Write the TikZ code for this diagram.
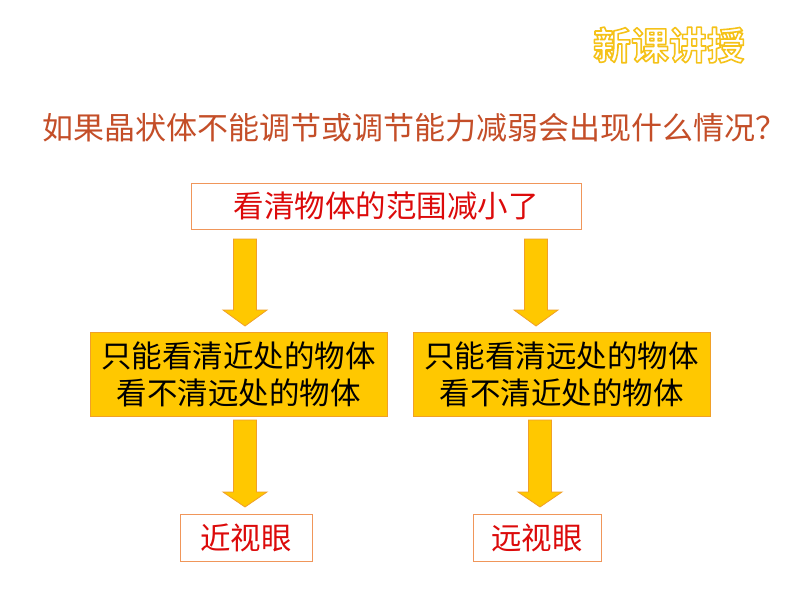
\documentclass[tikz,border=0pt]{standalone}
\usepackage{fontspec}
\setmainfont{Noto Sans CJK SC}
\newfontfamily\cjkb{Noto Sans CJK SC}[BoldFont=* Bold]
\definecolor{titlecol}{RGB}{196,78,40}
\definecolor{boxline}{RGB}{240,150,90}
\definecolor{gold}{RGB}{255,200,0}
\definecolor{goldline}{RGB}{240,160,40}
\definecolor{txtred}{RGB}{220,10,10}
\tikzset{
  whitebox/.style={draw=boxline, line width=0.9pt, fill=white, inner sep=0pt},
  goldbox/.style={draw=goldline, line width=0.9pt, fill=gold, inner sep=0pt, align=center},
  bigtxt/.style={font=\fontsize{30.5}{37}\selectfont},
  blockarrow/.style={draw=goldline, line width=0.8pt, fill=gold, line join=miter}
}
\newcommand{\downarrowblock}[4]{% x, shaft top, head base, tip
  \draw[blockarrow] (#1-11.5,#2) -- (#1+11.5,#2) -- (#1+11.5,#3) -- (#1+22,#3)
    -- (#1,#4) -- (#1-22,#3) -- (#1-11.5,#3) -- cycle;}
\newcommand{\outlinedtext}[1]{%
  \special{pdf:literal direct 0.96 0.76 0.1 RG 1.6 w 1 j 2 Tr}#1\special{pdf:literal direct 0 Tr}}
\begin{document}
\begin{tikzpicture}[x=1pt,y=-1pt]
\useasboundingbox (0,0) rectangle (800,600);
\fill[white] (0,0) rectangle (800,600);
% header badge
\node (badge) [text=white, font=\cjkb\bfseries\fontsize{38}{40}\selectfont] at (669,45) {\outlinedtext{新课讲授}};
% title
\node (title) [font=\fontsize{31}{37}\selectfont, text=titlecol, anchor=west] at (39,128) {如果晶状体不能调节或调节能力减弱会出现什么情况？};
% top box
\node (top) [whitebox, minimum width=390, minimum height=46, bigtxt, text=txtred] at (386,206) {看清物体的范围减小了};
% middle boxes
\node (ml) [goldbox, minimum width=297, minimum height=84, bigtxt] at (238.5,374.5) {只能看清近处的物体\\看不清远处的物体};
\node (mr) [goldbox, minimum width=297, minimum height=84, bigtxt] at (561.5,374.5) {只能看清远处的物体\\看不清近处的物体};
% bottom boxes
\node (bl) [whitebox, minimum width=132, minimum height=47, bigtxt, text=txtred] at (246,537.5) {近视眼};
\node (br) [whitebox, minimum width=128, minimum height=47, bigtxt, text=txtred] at (537,537.5) {远视眼};
% arrows
\downarrowblock{245}{239}{310}{326}
\downarrowblock{536}{239}{310}{326}
\downarrowblock{245}{420}{492}{507}
\downarrowblock{540}{420}{492}{507}
\end{tikzpicture}
\end{document}
